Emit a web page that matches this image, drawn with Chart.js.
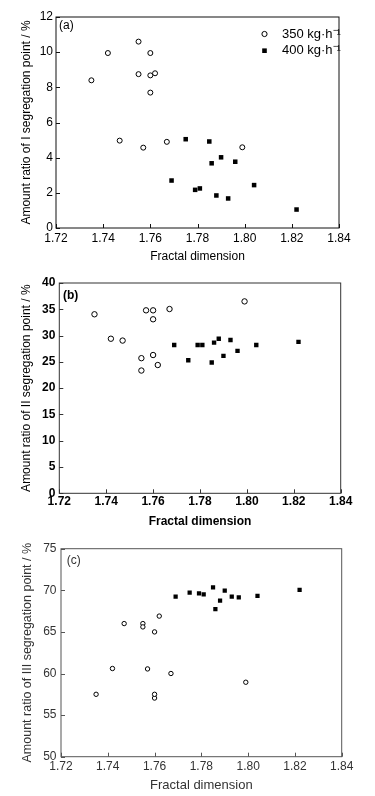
<!DOCTYPE html>
<html>
<head>
<meta charset="utf-8">
<script src="https://cdn.jsdelivr.net/npm/chart.js@4.4.1/dist/chart.umd.min.js"></script>
<style>
  html, body { margin: 0; padding: 0; background: #fff; }
  body { width: 375px; height: 796px; position: relative; overflow: hidden; }
  canvas { position: absolute; left: 0; display: block; }
</style>
</head>
<body>
<canvas id="chartA" width="375" height="265" style="top:0px"></canvas>
<canvas id="chartB" width="375" height="265" style="top:265px"></canvas>
<canvas id="chartC" width="375" height="266" style="top:530px"></canvas>
<script>
// ---------------- DATA ----------------
const seriesLabels = ['350 kg·h⁻¹', '400 kg·h⁻¹'];
const xAxisTitle = 'Fractal dimension';
const xTickLabels = ['1.72', '1.74', '1.76', '1.78', '1.80', '1.82', '1.84'];

// fractal dimension of each sample
const fractal350 = [1.735, 1.742, 1.747, 1.755, 1.755, 1.757, 1.760, 1.760, 1.760, 1.762, 1.767, 1.799];
const fractal400 = [1.769, 1.775, 1.779, 1.781, 1.785, 1.786, 1.788, 1.790, 1.793, 1.796, 1.804, 1.822];

// (a) amount ratio of I segregation point / %
const ratioI_350 = [8.40, 9.95, 4.97, 10.60, 8.75, 4.57, 9.95, 8.68, 7.70, 8.80, 4.90, 4.59];
const ratioI_400 = [2.70, 5.05, 2.17, 2.25, 4.92, 3.68, 1.85, 4.02, 1.68, 3.77, 2.44, 1.05];
const yTicksA = ['0', '2', '4', '6', '8', '10', '12'];

// (b) amount ratio of II segregation point / %
const ratioII_350 = [34.05, 29.40, 29.05, 23.35, 25.70, 34.80, 33.10, 34.80, 26.30, 24.40, 35.05, 36.50];
const ratioII_400 = [28.20, 25.30, 28.20, 28.20, 24.87, 28.67, 29.40, 26.14, 29.17, 27.10, 28.20, 28.80];
const yTicksB = ['0', '5', '10', '15', '20', '25', '30', '35', '40'];

// (c) amount ratio of III segregation point / %
const ratioIII_350 = [57.50, 60.60, 66.00, 66.00, 65.60, 60.55, 57.05, 57.50, 65.00, 66.90, 60.00, 58.95];
const ratioIII_400 = [69.24, 69.72, 69.64, 69.52, 70.36, 67.75, 68.76, 69.96, 69.24, 69.16, 69.32, 70.04];
const yTicksC = ['50', '55', '60', '65', '70', '75'];

const panelLabels = ['(a)', '(b)', '(c)'];
const yTitles = [
  'Amount ratio of I segregation point / %',
  'Amount ratio of II segregation point / %',
  'Amount ratio of III segregation point / %'
];

// ---------------- HELPERS ----------------
Chart.defaults.font.family = '"Liberation Sans", Arial, sans-serif';
Chart.defaults.color = '#000';
const NARROW = '"Liberation Sans Narrow", "Arial Narrow", "Liberation Sans", Arial, sans-serif';

function pts(xs, ys) { return xs.map((x, i) => ({ x: x, y: ys[i] })); }

const framePlugin = {
  id: 'frame',
  afterDraw(chart, args, o) {
    const ctx = chart.ctx;
    const { left, right, top, bottom } = chart.chartArea;
    const xs = chart.scales.x, ys = chart.scales.y;
    ctx.save();
    ctx.strokeStyle = o.color;
    ctx.lineWidth = o.width;
    ctx.strokeRect(left, top, right - left, bottom - top);
    ctx.beginPath();
    xs.ticks.forEach(t => {
      const p = Math.round(xs.getPixelForValue(t.value)) + 0.5;
      ctx.moveTo(p, bottom); ctx.lineTo(p, bottom - o.tick);
    });
    ys.ticks.forEach(t => {
      const p = Math.round(ys.getPixelForValue(t.value)) + 0.5;
      ctx.moveTo(left, p); ctx.lineTo(left + o.tick, p);
    });
    ctx.stroke();
    // panel label
    ctx.fillStyle = o.textColor;
    ctx.font = o.labelFont;
    ctx.textAlign = 'left';
    ctx.textBaseline = 'middle';
    ctx.fillText(o.label, o.labelX, o.labelY);
    ctx.restore();
  }
};

const legendPlugin = {
  id: 'innerLegend',
  afterDraw(chart, args, o) {
    if (!o.display) return;
    const ctx = chart.ctx;
    ctx.save();
    chart.data.datasets.forEach((ds, i) => {
      const y = o.y + i * o.spacing;
      ctx.beginPath();
      if (ds.pointStyle === 'rect') {
        ctx.fillStyle = ds.backgroundColor;
        ctx.fillRect(o.x - 2.3, y - 2.3, 4.6, 4.6);
      } else {
        ctx.fillStyle = ds.backgroundColor;
        ctx.strokeStyle = ds.borderColor;
        ctx.lineWidth = 1;
        ctx.arc(o.x, y, 2.6, 0, Math.PI * 2);
        ctx.fill(); ctx.stroke();
      }
      ctx.fillStyle = '#000';
      ctx.font = o.font;
      ctx.textAlign = 'left';
      ctx.textBaseline = 'middle';
      ctx.fillText(ds.label, o.textX, y);
    });
    ctx.restore();
  }
};

function makePanel(id, p) {
  const fixed = (w, h) => (scale) => {
    if (w !== undefined) scale.width = w;
    if (h !== undefined) scale.height = h;
  };
  return new Chart(document.getElementById(id), {
    type: 'scatter',
    data: {
      datasets: [
        {
          label: seriesLabels[0],
          data: pts(fractal350, p.y350),
          pointStyle: 'circle',
          pointRadius: p.circleR,
          pointHoverRadius: p.circleR,
          backgroundColor: '#fff',
          borderColor: '#000',
          borderWidth: 1
        },
        {
          label: seriesLabels[1],
          data: pts(fractal400, p.y400),
          pointStyle: 'rect',
          pointRadius: p.rectR,
          pointHoverRadius: p.rectR,
          backgroundColor: '#000',
          borderColor: '#000',
          borderWidth: 0
        }
      ]
    },
    options: {
      responsive: false,
      animation: false,
      events: [],
      layout: { padding: { left: 0, top: p.top, right: p.right, bottom: 0 } },
      plugins: {
        legend: { display: false },
        tooltip: { enabled: false },
        frame: {
          color: p.frameColor, width: 1, tick: 4,
          label: p.label, labelX: p.labelX, labelY: p.labelY,
          labelFont: p.labelFont, textColor: p.textColor
        },
        innerLegend: p.legend || { display: false }
      },
      scales: {
        x: {
          type: 'linear',
          min: 1.72, max: 1.84,
          afterFit: fixed(undefined, p.xH),
          grid: { display: false, drawTicks: false },
          border: { display: false },
          ticks: {
            stepSize: 0.02,
            padding: p.xPad,
            color: p.textColor,
            font: p.tickFont,
            maxRotation: 0,
            callback: (v) => xTickLabels.find(s => Math.abs(parseFloat(s) - v) < 1e-6) ?? ''
          },
          title: {
            display: true, text: xAxisTitle, color: p.textColor,
            font: p.titleFont, padding: { top: 0, bottom: p.xTitlePad }
          }
        },
        y: {
          type: 'linear',
          min: p.yMin, max: p.yMax,
          afterFit: fixed(p.yW, undefined),
          grid: { display: false, drawTicks: false },
          border: { display: false },
          ticks: {
            stepSize: p.yStep,
            padding: p.yPad,
            color: p.textColor,
            font: p.tickFont,
            callback: (v) => p.yTicks.find(s => Math.abs(parseFloat(s) - v) < 1e-6) ?? ''
          },
          title: {
            display: true, text: p.yTitle, color: p.textColor,
            font: p.yTitleFont, padding: { top: p.yTitlePad, bottom: 0 }
          }
        }
      }
    },
    plugins: [framePlugin, legendPlugin]
  });
}

makePanel('chartA', {
  y350: ratioI_350, y400: ratioI_400,
  yMin: 0, yMax: 12, yStep: 2, yTicks: yTicksA, yTitle: yTitles[0],
  top: 17, right: 36, yW: 56, xH: 37,
  xPad: 3, yPad: 3, xTitlePad: 1, yTitlePad: 19.5,
  circleR: 2.5, rectR: 3.2,
  frameColor: '#111', textColor: '#000',
  tickFont: { size: 12 }, titleFont: { size: 12 }, yTitleFont: { size: 12 },
  label: panelLabels[0], labelX: 59, labelY: 26, labelFont: '12px "Liberation Sans", Arial, sans-serif',
  legend: { display: true, x: 264.5, y: 34, spacing: 16.7, textX: 282, font: '13px "Liberation Sans", Arial, sans-serif' }
});

makePanel('chartB', {
  y350: ratioII_350, y400: ratioII_400,
  yMin: 0, yMax: 40, yStep: 5, yTicks: yTicksB, yTitle: yTitles[1],
  top: 18, right: 34.3, yW: 59.3, xH: 36.7,
  xPad: 1, yPad: 4, xTitlePad: 1, yTitlePad: 19.5,
  circleR: 2.7, rectR: 3.1,
  frameColor: '#333', textColor: '#000',
  tickFont: { size: 12, weight: 'bold', family: NARROW },
  titleFont: { size: 12, weight: 'bold' }, yTitleFont: { size: 12 },
  label: panelLabels[1], labelX: 63, labelY: 295.5 - 265, labelFont: 'bold 12px ' + NARROW
});

makePanel('chartC', {
  y350: ratioIII_350, y400: ratioIII_400,
  yMin: 50, yMax: 75, yStep: 5, yTicks: yTicksC, yTitle: yTitles[2],
  top: 18.7, right: 33.3, yW: 61, xH: 39.3,
  xPad: 2.5, yPad: 4.5, xTitlePad: 3, yTitlePad: 20.5,
  circleR: 2.2, rectR: 3.0,
  frameColor: '#555', textColor: '#333',
  tickFont: { size: 12 }, titleFont: { size: 13 }, yTitleFont: { size: 12.5 },
  label: panelLabels[2], labelX: 66.7, labelY: 561 - 530, labelFont: '12px "Liberation Sans", Arial, sans-serif'
});
</script>
</body>
</html>
